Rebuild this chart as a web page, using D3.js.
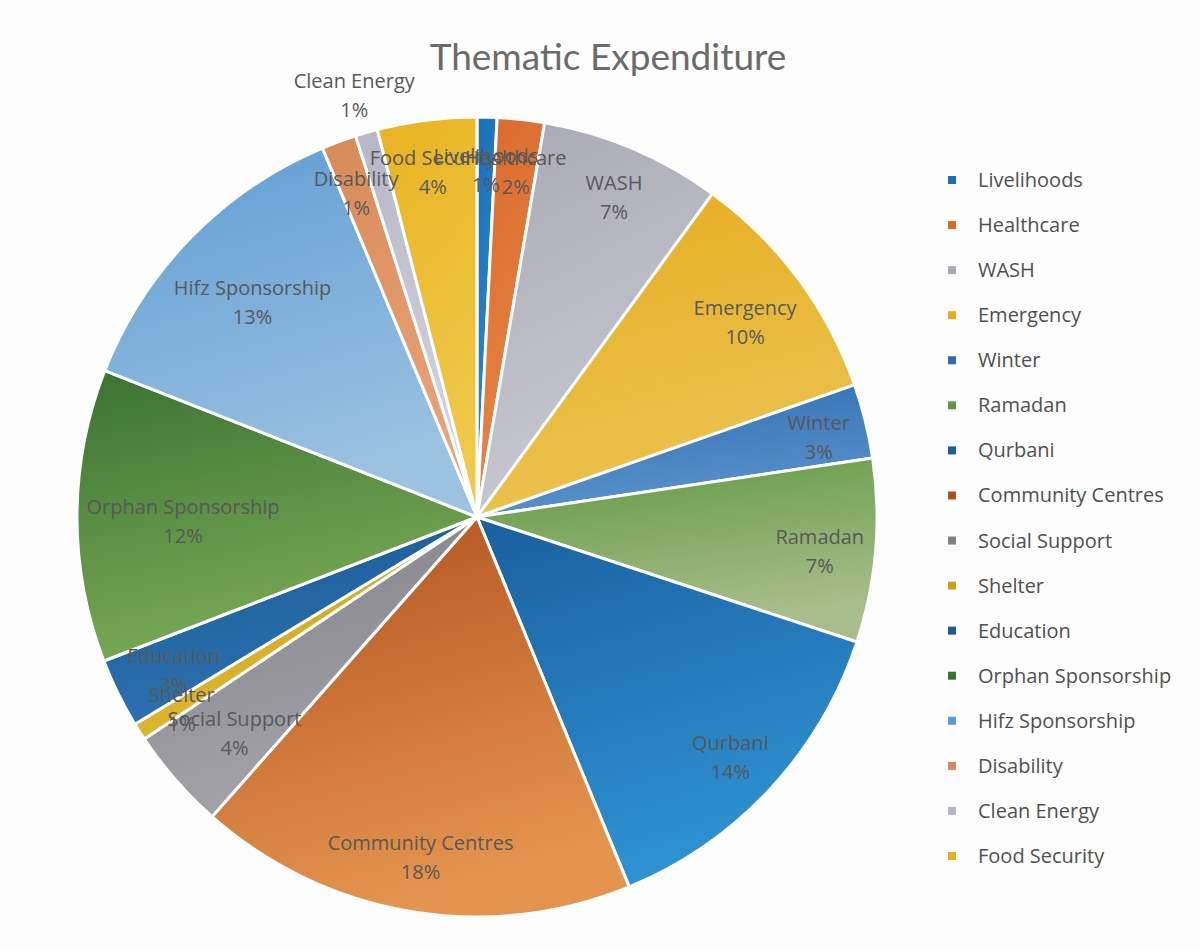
<!DOCTYPE html>
<html>
<head>
<meta charset="utf-8">
<script src="https://cdn.jsdelivr.net/npm/d3@7"></script>
<style>
  html, body { margin: 0; padding: 0; background: #fff; }
  svg { display: block; }
</style>
</head>
<body>
<svg id="chart"></svg>
<script>
// Thematic expenditure shares (in percent)
const categories = ["Livelihoods", "Healthcare", "WASH", "Emergency", "Winter", "Ramadan", "Qurbani",
  "Community Centres", "Social Support", "Shelter", "Education", "Orphan Sponsorship",
  "Hifz Sponsorship", "Disability", "Clean Energy", "Food Security"];
const values = [0.8, 1.9, 7.3, 9.6, 3.0, 7.4, 13.7, 17.7, 4.1, 0.7, 2.8, 11.8, 12.7, 1.4, 0.9, 4.0];
const darkColors = ["#1a6fb5", "#d9692a", "#a9a9b5", "#e6ad1e", "#2f6db0", "#5f9840", "#1a5f9e", "#b0501e",
  "#7f7f85", "#c9a01a", "#1b5a94", "#3a7232", "#5e9dd3", "#d88a58", "#b5b5c5", "#e8b320"];
const lightColors = ["#2e8ad0", "#e8874a", "#c9c9d2", "#ebc350", "#5a93cc", "#a9be8c", "#2e92d2", "#e4944e",
  "#a4a4aa", "#e0b830", "#2b72b0", "#7aab55", "#9cc2e2", "#eaa47a", "#d5d5e0", "#f0c84a"];
const outsideLabels = ["Clean Energy"];
const title = "Thematic Expenditure";

const width = 1200, height = 951;
const cx = 477, cy = 517, radius = 400;
const titleFont = "Lato, 'Open Sans', sans-serif";
const font = "'Open Sans', Lato, sans-serif";

const svg = d3.select("#chart").attr("width", width).attr("height", height);
svg.append("rect").attr("width", width).attr("height", height).attr("fill", "#fdfdfd");

const data = categories.map((name, i) => ({ name, value: values[i], i }));
const total = d3.sum(values);

// Gradients for each slice
const defs = svg.append("defs");
data.forEach(d =>
{
  const g = defs.append("linearGradient")
    .attr("id", "grad" + d.i)
    .attr("x1", 0).attr("y1", 0).attr("x2", 0.3).attr("y2", 1);
  g.append("stop").attr("offset", "0%").attr("stop-color", darkColors[d.i]);
  g.append("stop").attr("offset", "100%").attr("stop-color", lightColors[d.i]);
});

const pie = d3.pie().sort(null).value(d => d.value);
const arcs = pie(data);
const arc = d3.arc().innerRadius(0).outerRadius(radius);

const g = svg.append("g").attr("transform", `translate(${ cx },${ cy })`);

g.selectAll("path")
  .data(arcs)
  .enter()
  .append("path")
  .attr("d", arc)
  .attr("fill", d => `url(#grad${ d.data.i })`)
  .attr("stroke", "#fff")
  .attr("stroke-width", 3)
  .attr("stroke-linejoin", "round");

// Title
svg.append("text")
  .attr("x", 608)
  .attr("y", 70)
  .attr("text-anchor", "middle")
  .style("font-family", titleFont)
  .style("font-size", "37px")
  .attr("fill", "#6b6b6b")
  .text(title);

// Data labels: try 0.88R, pull inward until the label box fits inside the pie
const labelFont = 20;
const lineGap = 29;
const labels = g.append("g")
  .style("font-family", font)
  .style("font-size", labelFont + "px")
  .attr("fill", "#595959");

arcs.forEach(d =>
{
  const mid = (d.startAngle + d.endAngle) / 2;
  const pct = Math.round(d.data.value / total * 100) + "%";
  const tmp = labels.append("text").text(d.data.name);
  const w = tmp.node().getComputedTextLength();
  tmp.remove();
  const hw = w / 2, hh = 26;
  let r;
  if (outsideLabels.includes(d.data.name))
  {
    r = radius * 1.11;
  }
  else
  {
    r = radius * 0.88;
    const fits = rr =>
    {
      const x = Math.sin(mid) * rr, y = -Math.cos(mid) * rr;
      return [[x - hw, y - hh], [x + hw, y - hh], [x - hw, y + hh], [x + hw, y + hh]]
        .every(p => Math.hypot(p[0], p[1]) <= radius - 8);
    };
    while (r > radius * 0.5 && !fits(r)) r -= 2;
  }
  const x = Math.sin(mid) * r, y = -Math.cos(mid) * r;
  const t = labels.append("text").attr("text-anchor", "middle");
  t.append("tspan").attr("x", x).attr("y", y - lineGap / 2 + 12).text(d.data.name);
  t.append("tspan").attr("x", x).attr("y", y + lineGap / 2 + 12).text(pct);
});

// Legend
const legendY = d3.scalePoint().domain(categories).range([180, 856]);
const legend = svg.append("g")
  .style("font-family", font)
  .style("font-size", "20px");

const item = legend.selectAll("g")
  .data(data)
  .enter()
  .append("g")
  .attr("transform", d => `translate(948, ${ legendY(d.name) })`);

item.append("rect")
  .attr("x", 0)
  .attr("y", -4)
  .attr("width", 8)
  .attr("height", 8)
  .attr("fill", d => darkColors[d.i]);

item.append("text")
  .attr("x", 30)
  .attr("y", 0)
  .attr("dy", "0.35em")
  .attr("fill", "#505050")
  .text(d => d.name);
</script>
</body>
</html>
